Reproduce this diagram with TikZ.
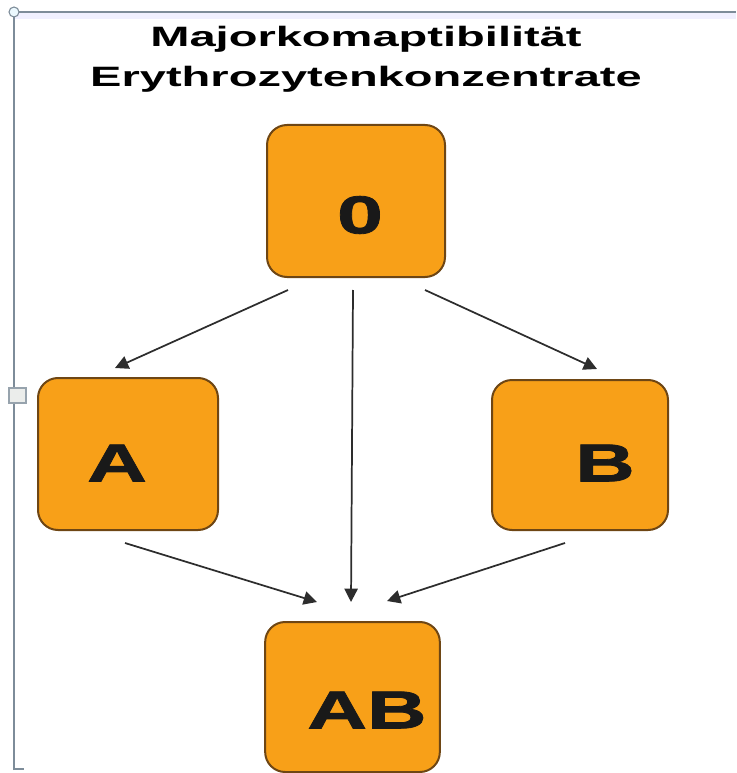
\documentclass[tikz,border=0pt]{standalone}
\usepackage{fontspec}
\newfontfamily\titlefont[FakeStretch=1.68]{Liberation Sans}
\newfontfamily\letterfont[FakeStretch=1.55,FakeBold=1.5]{Liberation Sans}
\usetikzlibrary{arrows.meta,calc}
\definecolor{boxfill}{RGB}{248,160,24}
\definecolor{boxline}{RGB}{110,70,20}
\definecolor{frameline}{RGB}{125,140,153}
\definecolor{arrowcol}{RGB}{45,45,45}
\begin{document}
\begin{tikzpicture}[x=0.75pt,y=-0.75pt,
  bloodbox/.style={draw=boxline,line width=1.5pt,fill=boxfill,rounded corners=15pt,inner sep=0pt},
  lettr/.style={font=\letterfont\bfseries\fontsize{40}{40}\selectfont,inner sep=0pt,text=black!90},
  conn/.style={draw=arrowcol,line width=1.3pt,-{Triangle[length=10pt,width=10pt]}}]
\useasboundingbox (0,0) rectangle (736,773);
% frame
\fill[blue!6] (15,13) rectangle (736,19);
\draw[frameline,line width=1.5pt] (14,770) -- (14,12) -- (736,12);
\draw[frameline,line width=1pt] (14,769) -- (24,769);
\draw[frameline,fill=cyan!8,line width=0.8pt] (14,12) circle (5);
\draw[frameline!80,fill=green!6!gray!15,line width=0.8pt] (9,388) rectangle (26,403);
% title
\node[font=\titlefont\bfseries\fontsize{21}{30}\selectfont,align=center,anchor=base,inner sep=0pt] (title) at (366,87) {Majorkomaptibilität\\Erythrozytenkonzentrate};
% boxes
\node[bloodbox,minimum width=133.5pt,minimum height=114pt] (o) at (356,201) {};
\node[bloodbox,minimum width=135pt,minimum height=114pt] (a) at (128,454) {};
\node[bloodbox,minimum width=132pt,minimum height=112.5pt] (b) at (580,455) {};
\node[bloodbox,minimum width=131pt,minimum height=112.5pt] (ab) at (352.5,697) {};
% letters
\node[lettr] (lo) at (360,215) {0};
\node[lettr] (la) at (117,463) {A};
\node[lettr] (lb) at (605,463) {B};
\node[lettr] (lab) at (367,710) {AB};
% connector ends
\coordinate (oa) at (288,290);
\coordinate (om) at (353,290);
\coordinate (ob) at (425,290);
\coordinate (ta) at (115,368);
\coordinate (tb) at (597,369);
\coordinate (am) at (125,543);
\coordinate (bm) at (565,543);
\coordinate (tl) at (317,602);
\coordinate (tm) at (351,602);
\coordinate (tr) at (387,601);
\draw[conn] (oa) -- (ta);
\draw[conn] (om) -- (tm);
\draw[conn] (ob) -- (tb);
\draw[conn] (am) -- (tl);
\draw[conn] (bm) -- (tr);
\end{tikzpicture}
\end{document}
